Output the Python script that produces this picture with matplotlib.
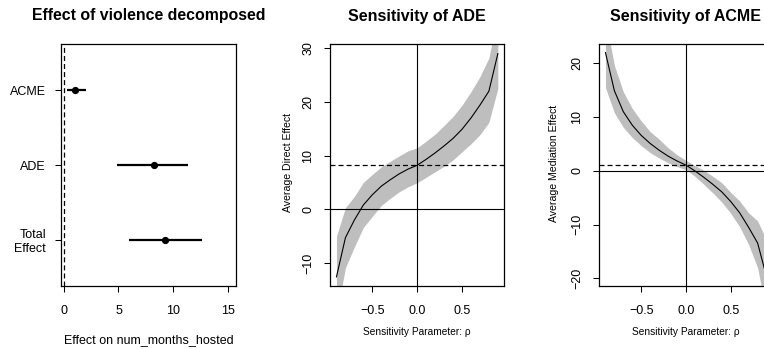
import matplotlib
matplotlib.use('Agg')
import matplotlib.pyplot as plt

plt.rcParams['font.family'] = ['Liberation Sans', 'DejaVu Sans']
plt.rcParams['lines.scale_dashes'] = False

# ---- Panel 1: decomposition of the effect ----
effect_labels = ['ACME', 'ADE', 'Total\nEffect']
effect_pos = [3, 2, 1]
effect_est = [1.07, 8.2, 9.25]
effect_lo = [0.29, 4.9, 5.95]
effect_hi = [2.02, 11.35, 12.6]
effect_xticks = [0, 5, 10, 15]

# ---- Sensitivity analysis ----
rho = [-0.9, -0.8, -0.7, -0.6, -0.5, -0.4, -0.3, -0.2, -0.1, 0.0,
       0.1, 0.2, 0.3, 0.4, 0.5, 0.6, 0.7, 0.8, 0.9]

ade_est = [-12.6, -5.3, -2.0, 0.8, 2.7, 4.3, 5.5, 6.6, 7.5, 8.2,
           9.3, 10.5, 11.8, 13.2, 14.9, 17.0, 19.4, 22.0, 29.0]
ade_lo = [-19.9, -10.9, -7.0, -3.4, -1.3, 0.7, 2.05, 3.25, 4.2, 4.95,
          5.95, 7.0, 8.0, 9.2, 10.7, 12.2, 13.9, 16.2, 22.5]
ade_hi = [-5.0, 0.3, 2.4, 5.0, 6.5, 7.9, 8.95, 9.95, 10.9, 11.45,
          12.7, 14.0, 15.6, 17.3, 19.4, 21.9, 24.7, 28.2, 36.3]
ade_point = 8.2

acme_est = [22.0, 14.9, 11.0, 8.5, 6.6, 5.1, 3.85, 2.75, 1.85, 1.07,
            0.0, -1.2, -2.5, -3.9, -5.7, -7.8, -10.5, -13.4, -19.7]
acme_lo = [15.5, 10.8, 8.1, 6.2, 4.7, 3.4, 2.4, 1.5, 0.8, 0.25,
           -1.0, -2.5, -4.1, -5.8, -7.9, -10.4, -13.7, -18.0, -26.5]
acme_hi = [28.5, 19.6, 14.7, 11.6, 9.3, 7.3, 5.9, 4.3, 3.0, 1.95,
           1.0, 0.1, -1.0, -2.2, -4.0, -5.6, -7.8, -9.3, -12.9]
acme_point = 1.07

sens_xticks = [-0.5, 0.0, 0.5]
ade_yticks = [-10, 0, 10, 20, 30]
acme_yticks = [-20, -10, 0, 10, 20]

W, H = 764, 349
fig = plt.figure(figsize=(W / 100, H / 100), dpi=100)


def box(l, t, r, b):
    return [l / W, 1 - b / H, (r - l) / W, (b - t) / H]


def style_axes(ax):
    for s in ax.spines.values():
        s.set_linewidth(0.9)
        s.set_color('black')
    ax.tick_params(direction='out', length=4.3, width=0.75, colors='black',
                   labelsize=9)


# Panel 1
ax1 = fig.add_axes(box(61, 44, 236, 286))
style_axes(ax1)
ax1.set_xlim(-0.23, 15.7)
ax1.set_ylim(0.38, 3.62)
ax1.axvline(0, color='black', lw=0.9, dashes=(3.6, 2.2))
ax1.hlines(effect_pos, effect_lo, effect_hi, color='black', lw=1.6)
ax1.plot(effect_est, effect_pos, 'o', color='black', ms=4.2, ls='none')
ax1.set_xticks(effect_xticks)
ax1.set_xticklabels([str(v) for v in effect_xticks])
ax1.set_yticks(effect_pos)
ax1.set_yticklabels(effect_labels, multialignment='right')
ax1.tick_params(axis='x', pad=9.5)
ax1.tick_params(axis='y', pad=6.5)
fig.text(148.5 / W, 1 - 15.5 / H, 'Effect of violence decomposed', ha='center',
         va='center', fontsize=11.4, fontweight='bold')
fig.text(148.5 / W, 1 - 340 / H, 'Effect on num_months_hosted', ha='center',
         va='center', fontsize=9)


def sens_panel(rect, est, lo, hi, point, yticks, ylim, title, ylabel, cx, ylab_x):
    ax = fig.add_axes(rect)
    style_axes(ax)
    ax.fill_between(rho, lo, hi, color='#BEBEBE', lw=0, zorder=1)
    ax.axhline(0, color='black', lw=0.8, zorder=2)
    ax.axvline(0, color='black', lw=0.8, zorder=2)
    ax.axhline(point, color='black', lw=0.9, dashes=(3.6, 2.2), zorder=2)
    ax.plot(rho, est, color='black', lw=0.8, zorder=3)
    ax.set_xlim(-0.972, 0.972)
    ax.set_ylim(*ylim)
    ax.set_xticks(sens_xticks)
    ax.set_xticklabels(['\u22120.5', '0.0', '0.5'])
    ax.set_yticks(yticks)
    ax.set_yticklabels([str(v).replace('-', '\u2212') for v in yticks])
    for lab in ax.get_yticklabels():
        lab.set_rotation(90)
        lab.set_va('center')
    ax.tick_params(axis='x', pad=9.5)
    ax.tick_params(axis='y', pad=7.0)
    fig.text(cx / W, 1 - 16.5 / H, title, ha='center', va='center',
             fontsize=11.5, fontweight='bold')
    fig.text(cx / W, 1 - 332 / H, 'Sensitivity Parameter: \u03c1', ha='center',
             va='center', fontsize=7.3)
    fig.text(ylab_x / W, 1 - 163 / H, ylabel, ha='center', va='center',
             rotation=90, fontsize=7.6)
    return ax


sens_panel(box(330, 44, 504.3, 286), ade_est, ade_lo, ade_hi, ade_point,
           ade_yticks, (-14.3, 30.8), 'Sensitivity of ADE',
           'Average Direct Effect', 416.5, 288)
sens_panel(box(599, 44, 773, 286), acme_est, acme_lo, acme_hi, acme_point,
           acme_yticks, (-21.4, 23.6), 'Sensitivity of ACME',
           'Average Mediation Effect', 685.5, 554)

fig.savefig('out.png', dpi=100)
